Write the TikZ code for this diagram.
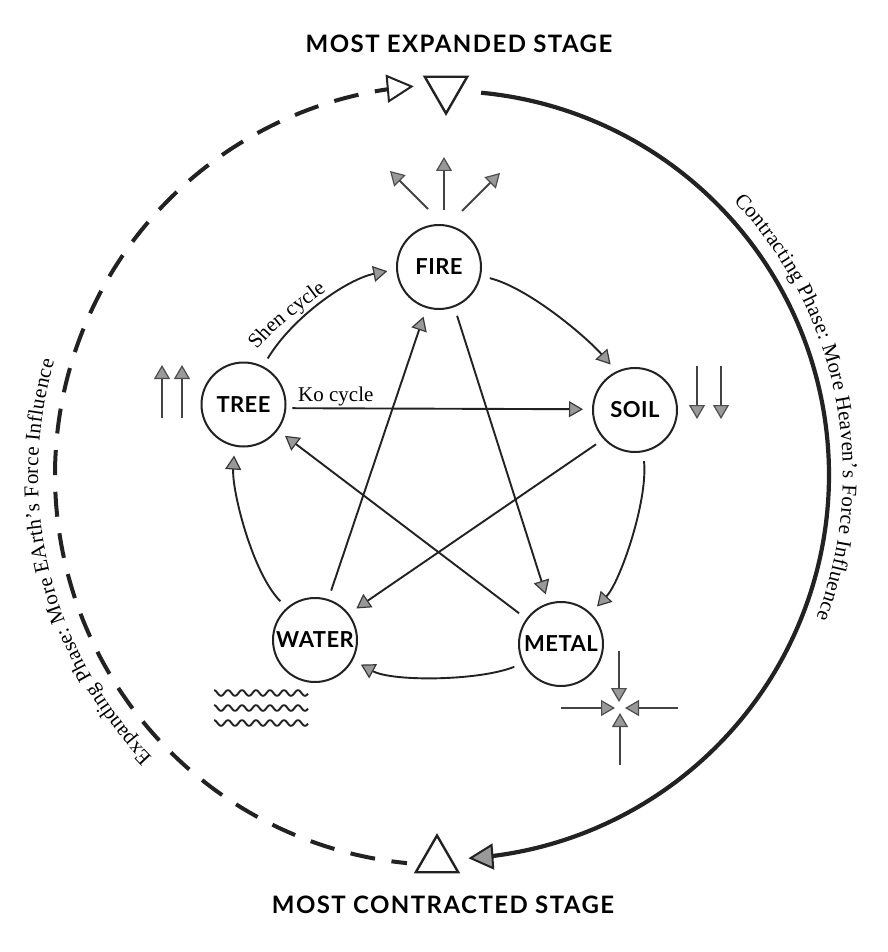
\documentclass[tikz,border=0pt]{standalone}
\usepackage{fontspec}
\setmainfont{Liberation Serif}
\newfontfamily\labfont[LetterSpace=2]{Lato Bold}
\newfontfamily\headfont[LetterSpace=6]{Lato Bold}
\usetikzlibrary{arrows.meta,shapes.geometric,decorations.text}
\definecolor{ink}{HTML}{222222}
\definecolor{headgray}{HTML}{999999}
\tikzset{
  x=1pt,y=-1pt,
  element/.style={circle,draw=ink,line width=2pt,fill=white,minimum size=84pt,inner sep=0pt,outer sep=0pt,font=\labfont\fontsize{22}{22}\selectfont,text=black},
  cycarrow/.style={draw=ink,line width=1.9pt,shorten <=10pt,shorten >=10pt,-{Triangle[length=14pt,width=16pt,fill=headgray,color=ink!90,line width=1.2pt]}},
  smallarrow/.style={draw=ink!85,line width=1.9pt,-{Triangle[length=14pt,width=16pt,fill=headgray,color=ink!80,line width=1.2pt]}},
  heading/.style={font=\headfont\fontsize{24}{24}\selectfont,text=black},
  cyclelabel/.style={font=\fontsize{21}{22}\selectfont,text=black,inner sep=0pt},
  stage/.style={regular polygon,regular polygon sides=3,draw=ink,line width=2.4pt,fill=white,minimum size=49pt,inner sep=0pt},
  wave/.style={draw=ink,line width=1.9pt},
  arctext/.style={decorate,decoration={text along path,text align={fit to path}}}
}
\begin{document}
\begin{tikzpicture}
\useasboundingbox[fill=white] (0,0) rectangle (887,952);
% headings
\node[heading] (top) at (459,44) {MOST EXPANDED STAGE};
\node[heading] (bottom) at (443,905) {MOST CONTRACTED STAGE};
% stage triangles
\node[stage,shape border rotate=180] (most) at (446,89) {};
\node[stage] (least) at (437,860) {};
% elements
\node[element] (fire) at (439,267) {FIRE};
\node[element] (soil) at (635,410) {SOIL};
\node[element] (metal) at (561,644) {METAL};
\node[element] (water) at (315,640) {WATER};
\node[element] (tree) at (243.5,404.5) {TREE};
% outer arcs
\draw[ink,line width=4.2pt,-{Triangle[length=25pt,width=26pt,fill=headgray,color=ink,line width=2pt]}]
  plot[domain=-84.6:86.5,samples=180] ({445+384*cos(\x)},{475+384*sin(\x)});
\draw[ink,line width=4pt,dash pattern=on 25pt off 16.7pt,dash phase=9.4pt,-{Triangle[length=27pt,width=28pt,fill=white,color=ink,line width=2pt]}]
  plot[domain=95.6:265.4,samples=180] ({445+390*cos(\x)},{475+390*sin(\x)});
% arc labels
\path[arctext,decoration={text={|\fontsize{21}{22}\selectfont|Contracting Phase: More Heaven's Force Influence}}]
  plot[domain=-43.5:21.1,samples=120] ({445+398*cos(\x)},{475+398*sin(\x)});
\path[arctext,decoration={text={|\fontsize{21}{22}\selectfont|Expanding Phase: More EArth's Force Influence}}]
  plot[domain=136:196.3,samples=120] ({445+407*cos(\x)},{475+407*sin(\x)});
% Shen cycle (outer) connectors
\draw[cycarrow] (fire.-12) .. controls +(48,12) and +(-32,-36) .. (soil.115);
\draw[cycarrow] (soil.-79) .. controls +(5,50) and +(30,-32) .. (metal.46);
\draw[cycarrow] (metal.207) .. controls +(-45,18) and +(40,22) .. (water.-28);
\draw[cycarrow] (water.131) .. controls +(-35,-35) and +(-3,45) .. (tree.-102);
\draw[cycarrow] (tree.63) .. controls +(30,-50) and +(-50,10) .. (fire.183);
% Ko cycle (star) connectors
\draw[cycarrow] (fire.-69) -- (metal.107);
\draw[cycarrow] (metal.144) -- (tree.-37);
\draw[cycarrow,shorten <=7pt] (tree.-5) -- (soil.179);
\draw[cycarrow] (soil.223) -- (water.38);
\draw[cycarrow] (water.72) -- (fire.-107);
% labels
\node[cyclelabel,anchor=base west] (ko) at (298,401) {Ko cycle};
\coordinate (shenA) at (257,350);
\coordinate (shenB) at (275,329);
\coordinate (shenC) at (326,291);
\path[decorate,decoration={text along path,text align={fit to path},text={|\fontsize{21}{22}\selectfont|Shen cycle}}]
  (shenA) .. controls (shenB) .. (shenC);
% direction arrows: fire
\coordinate (f1a) at (428,209); \coordinate (f1b) at (390,171);
\coordinate (f2a) at (444,210); \coordinate (f2b) at (444,157);
\coordinate (f3a) at (462,211); \coordinate (f3b) at (500,173);
\draw[smallarrow] (f1a) -- (f1b);
\draw[smallarrow] (f2a) -- (f2b);
\draw[smallarrow] (f3a) -- (f3b);
% tree
\coordinate (t1a) at (162,418); \coordinate (t1b) at (162,365);
\coordinate (t2a) at (182,418); \coordinate (t2b) at (182,365);
\draw[smallarrow] (t1a) -- (t1b);
\draw[smallarrow] (t2a) -- (t2b);
% soil
\coordinate (s1a) at (697,366); \coordinate (s1b) at (697,419);
\coordinate (s2a) at (721,366); \coordinate (s2b) at (721,419);
\draw[smallarrow] (s1a) -- (s1b);
\draw[smallarrow] (s2a) -- (s2b);
% metal
\coordinate (m1a) at (619,651); \coordinate (m1b) at (619,702);
\coordinate (m2a) at (561,708); \coordinate (m2b) at (615,708);
\coordinate (m3a) at (678,708); \coordinate (m3b) at (625,708);
\coordinate (m4a) at (620,765); \coordinate (m4b) at (620,713);
\draw[smallarrow] (m1a) -- (m1b);
\draw[smallarrow] (m2a) -- (m2b);
\draw[smallarrow] (m3a) -- (m3b);
\draw[smallarrow] (m4a) -- (m4b);
% water waves
\foreach \yy in {693,708,723}
  \draw[wave] plot[domain=214:308,samples=160] (\x,{\yy+2.8*sin((\x-214)/14*360-90)});
\end{tikzpicture}
\end{document}
